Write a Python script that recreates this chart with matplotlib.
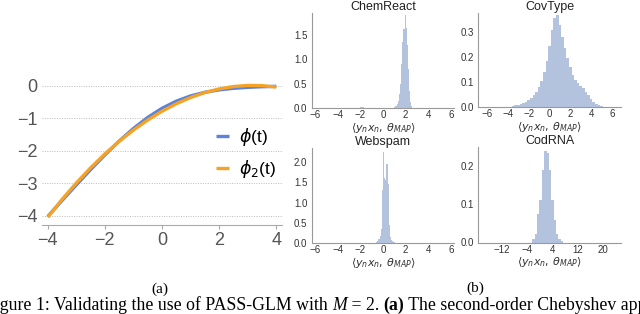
import matplotlib
matplotlib.use("Agg")
import matplotlib.pyplot as plt
import numpy as np

plt.rcParams['font.family'] = ['Liberation Sans', 'DejaVu Sans']
plt.rcParams['mathtext.fontset'] = 'dejavusans'

# (a) phi(t) and its 2nd order Chebyshev approximation
t_vals = [-4.0, -3.5, -3.0, -2.5, -2.0, -1.5, -1.0, -0.5, 0.0,
          0.5, 1.0, 1.5, 2.0, 2.5, 3.0, 3.5, 4.0]
phi_vals = [-4.018, -3.530, -3.049, -2.579, -2.127, -1.701, -1.313, -0.974, -0.693,
            -0.474, -0.313, -0.201, -0.127, -0.079, -0.049, -0.030, -0.018]
phi2_vals = [-4.041, -3.496, -2.990, -2.524, -2.097, -1.710, -1.362, -1.053, -0.783,
             -0.553, -0.362, -0.210, -0.097, -0.024, 0.010, 0.004, -0.041]

# (b) histograms of <y_n x_n, theta_MAP>: bin centres and densities
chem_centers = [-1.95, -1.85, -1.75, -1.65, 1.05, 1.15, 1.25, 1.35, 1.45, 1.55, 1.65,
                1.75, 1.85, 1.95, 2.05, 2.15, 2.25, 2.35, 2.45, 2.55]
chem_density = [0.015, 0.025, 0.02, 0.01, 0.02, 0.04, 0.08, 0.15, 0.28, 0.5, 0.9,
                1.35, 1.62, 1.9, 1.65, 1.3, 0.8, 0.35, 0.12, 0.04]

cov_centers = [-3.5, -3.25, -3.0, -2.75, -2.5, -2.25, -2.0, -1.75, -1.5, -1.25, -1.0,
               -0.75, -0.5, -0.25, 0.0, 0.25, 0.5, 0.75, 1.0, 1.25, 1.5, 1.75, 2.0,
               2.25, 2.5, 2.75, 3.0, 3.25, 3.5, 3.75, 4.0, 4.25, 4.5, 4.75, 5.0, 5.25]
cov_density = [0.004, 0.007, 0.010, 0.013, 0.016, 0.021, 0.028, 0.037, 0.048, 0.062, 0.080,
               0.105, 0.14, 0.185, 0.245, 0.31, 0.355, 0.37, 0.33, 0.28, 0.235, 0.195, 0.16,
               0.13, 0.11, 0.095, 0.085, 0.075, 0.062, 0.048, 0.034, 0.022, 0.013, 0.008, 0.004, 0.002]

web_centers = [-0.55, -0.45, -0.35, -0.25, -0.15, -0.05, 0.05, 0.15, 0.25,
               0.35, 0.45, 0.55, 0.65, 0.75, 0.85, 0.95, 1.05]
web_density = [0.03, 0.06, 0.1, 0.18, 0.35, 1.3, 2.25, 1.6, 1.55,
               1.95, 1.45, 0.45, 0.15, 0.08, 0.05, 0.03, 0.015]

cod_centers = [-2.0, -1.25, -0.5, 0.25, 1.0, 1.75, 2.5, 3.25, 4.0, 4.75, 5.5, 6.25, 7.0]
cod_density = [0.01, 0.023, 0.075, 0.11, 0.19, 0.24, 0.233, 0.19, 0.11, 0.058, 0.023, 0.01, 0.004]

hist_titles = ['ChemReact', 'CovType', 'Webspam', 'CodRNA']

W, H = 640, 314
fig = plt.figure(figsize=(6.4, 3.14), dpi=100)


def px_axes(x0, y0, x1, y1):
    # pixel box (left, top, right, bottom) -> figure axes
    return fig.add_axes([x0 / W, 1 - y1 / H, (x1 - x0) / W, (y1 - y0) / H])


# ---- panel (a)
ax = px_axes(42, 82.5, 282, 225)
for y in range(-4, 1):
    ax.axhline(y, color='#bbbbbb', lw=0.7, ls=(0, (1, 1.5)), zorder=0)
ax.plot(t_vals, phi_vals, color='#5b82dd', lw=2.4, label=r'$\phi$(t)', solid_capstyle='butt')
ax.plot(t_vals, phi2_vals, color='#f5a327', lw=2.4, label=r'$\phi_2$(t)', solid_capstyle='butt')
ax.set_xlim(-4.2, 4.2)
ax.set_ylim(-4.28, 0.1)
ax.set_xticks([-4, -2, 0, 2, 4])
ax.set_yticks([0, -1, -2, -3, -4])
ax.set_xticklabels(['\u22124', '\u22122', '0', '2', '4'])
ax.set_yticklabels(['0', '\u22121', '\u22122', '\u22123', '\u22124'])
for s in ['left', 'top', 'right']:
    ax.spines[s].set_visible(False)
ax.spines['bottom'].set_color('#aaaaaa')
ax.tick_params(axis='y', length=0, pad=3, labelsize=13, labelcolor='#555555')
ax.tick_params(axis='x', length=3, color='#aaaaaa', pad=2, labelsize=13, labelcolor='#555555')
ax.legend(loc='upper left', bbox_to_anchor=(216 / W, 1 - 126 / H), bbox_transform=fig.transFigure,
          frameon=False, fontsize=12.5, handlelength=0.75, handletextpad=0.6,
          labelspacing=0.6, borderpad=0, borderaxespad=0)

# ---- panel (b)
boxes = [(311.6, 13, 454.4, 108), (478, 13, 621, 107),
         (311.6, 148, 454.4, 243), (478, 147, 621, 242.5)]
centers = [chem_centers, cov_centers, web_centers, cod_centers]
dens = [chem_density, cov_density, web_density, cod_density]
widths = [0.1, 0.25, 0.1, 0.75]
xlims = [(-6.3, 6.3), (-6.86, 6.86), (-6.3, 6.3), (-19.5, 25.6)]
ylims = [(0, 1.95), (0, 0.376), (0, 2.35), (0, 0.25)]
xticks = [[-6, -4, -2, 0, 2, 4, 6]] * 3 + [[-12, -4, 4, 12, 20]]
yticks = [[0, 0.5, 1.0, 1.5], [0, 0.1, 0.2, 0.3], [0, 0.5, 1.0, 1.5, 2.0], [0, 0.1, 0.2]]

for i in range(4):
    hx = px_axes(*boxes[i])
    hx.bar(centers[i], dens[i], width=widths[i], color='#4c72b0', alpha=0.42, lw=0)
    hx.set_xlim(*xlims[i])
    hx.set_ylim(*ylims[i])
    hx.set_xticks(xticks[i])
    hx.set_xticklabels([str(v).replace('-', '\u2212') for v in xticks[i]])
    hx.set_yticks(yticks[i])
    hx.set_yticklabels(['%.1f' % v for v in yticks[i]])
    for s in ['top', 'right']:
        hx.spines[s].set_visible(False)
    for s in ['left', 'bottom']:
        hx.spines[s].set_color('#999999')
        hx.spines[s].set_linewidth(0.8)
    hx.tick_params(length=0, labelsize=7, labelcolor='#333333')
    hx.tick_params(axis='x', pad=1.5)
    hx.tick_params(axis='y', pad=3)
    hx.set_title(hist_titles[i], fontsize=9, pad=2, color='#222222')
    hx.set_xlabel(r'$\langle y_n x_n,\, \theta_{MAP}\rangle$', fontsize=8, labelpad=0.5, color='#333333')

# ---- sub labels and caption
serif = 'Liberation Serif'
fig.text(160 / W, 1 - 289 / H, '(a)', ha='center', va='center', fontsize=11, family=serif)
fig.text(475 / W, 1 - 288 / H, '(b)', ha='center', va='center', fontsize=11, family=serif)

cap = fig.add_axes([0, 0, 1, 1])
cap.axis('off')
prev = cap.text(-15 / W, 1 - 314 / H, 'Figure 1: Validating the use of PASS-GLM with ',
                transform=cap.transAxes, ha='left', va='bottom', fontsize=12.8, family=serif)
pieces = [('M', 'italic', 'normal'), (' = 2. ', 'normal', 'normal'), ('(a)', 'normal', 'bold'),
          (' The second-order Chebyshev approximation', 'normal', 'normal')]
for txt, style, weight in pieces:
    prev = cap.annotate(txt, xy=(1, 0), xycoords=prev, ha='left', va='bottom', fontsize=12.8,
                        family=serif, fontstyle=style, fontweight=weight)

fig.savefig('out.png', dpi=100)
